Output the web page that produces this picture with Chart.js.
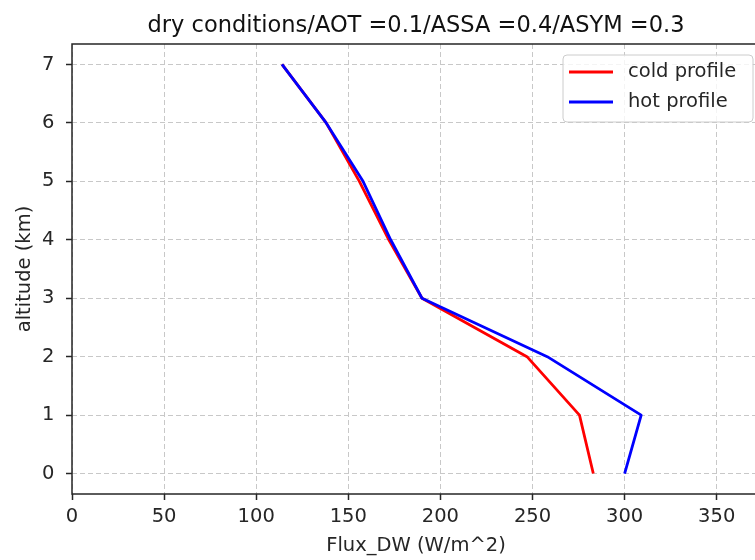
<!DOCTYPE html>
<html>
<head>
<meta charset="utf-8">
<script src="https://cdn.jsdelivr.net/npm/chart.js@4.4.1/dist/chart.umd.min.js"></script>
<style>
  html, body { margin: 0; padding: 0; overflow: hidden; background: #ffffff; }
  #wrap { position: relative; width: 760px; height: 560px; }
</style>
</head>
<body>
<div id="wrap"><canvas id="c" width="760" height="560"></canvas></div>
<script>
// Downward flux profiles against altitude
const altitudes = [0, 1, 2, 3, 4, 5, 6, 7];
const coldFlux = [283, 275.5, 247, 190, 172, 156, 138, 114];
const hotFlux = [300, 309, 258, 190, 173, 158, 138, 114];
const seriesNames = ['cold profile', 'hot profile'];
const xTickValues = [0, 50, 100, 150, 200, 250, 300, 350];
const yTickValues = [0, 1, 2, 3, 4, 5, 6, 7];
const chartTitle = 'dry conditions/AOT =0.1/ASSA =0.4/ASYM =0.3';
const xTitle = 'Flux_DW (W/m^2)';
const yTitle = 'altitude (km)';

const FONT = 'DejaVu Sans';
const TEXT = '#262626';

const toPoints = (flux) => flux.map((v, i) => ({ x: v, y: altitudes[i] }));

// Axes frame, inside legend and the centred title
const decorations = {
  id: 'decorations',
  afterDatasetsDraw(chart) {
    const { ctx, chartArea: a } = chart;
    ctx.save();
    ctx.strokeStyle = TEXT;
    ctx.lineWidth = 1.5;
    ctx.strokeRect(a.left, a.top, a.right - a.left, a.bottom - a.top);

    // legend box
    const bw = 190, bh = 67;
    const bx = a.right - 7 - bw, by = a.top + 11;
    ctx.beginPath();
    ctx.roundRect(bx, by, bw, bh, 4);
    ctx.fillStyle = 'rgba(255,255,255,0.8)';
    ctx.fill();
    ctx.strokeStyle = '#cccccc';
    ctx.lineWidth = 1;
    ctx.stroke();

    ctx.font = '19.5px "' + FONT + '"';
    ctx.textBaseline = 'middle';
    ctx.textAlign = 'left';
    chart.data.datasets.forEach((ds, i) => {
      const y = by + 17 + i * 30;
      ctx.beginPath();
      ctx.moveTo(bx + 6, y);
      ctx.lineTo(bx + 50, y);
      ctx.strokeStyle = ds.borderColor;
      ctx.lineWidth = ds.borderWidth;
      ctx.lineCap = 'butt';
      ctx.stroke();
      ctx.fillStyle = TEXT;
      ctx.fillText(ds.label, bx + 65, y);
    });

    // title centred over the axes
    ctx.font = '22.5px "' + FONT + '"';
    ctx.textAlign = 'center';
    ctx.textBaseline = 'alphabetic';
    ctx.fillStyle = '#111111';
    ctx.fillText(chartTitle, (a.left + a.right) / 2, 32);
    ctx.restore();
  }
};

const gridCommon = {
  color: '#c8c8c8',
  lineWidth: 1,
  drawTicks: true,
  tickLength: 6,
  tickWidth: 1.5,
  tickColor: TEXT,
  tickBorderDash: [],
  tickBorderDashOffset: 0
};

new Chart(document.getElementById('c'), {
  type: 'line',
  data: {
    datasets: [
      {
        label: seriesNames[0],
        data: toPoints(coldFlux),
        borderColor: '#ff0000',
        borderWidth: 2.8,
        pointRadius: 0,
        fill: false,
        tension: 0,
        borderJoinStyle: 'round',
        order: 1
      },
      {
        label: seriesNames[1],
        data: toPoints(hotFlux),
        borderColor: '#0000ff',
        borderWidth: 2.8,
        pointRadius: 0,
        fill: false,
        tension: 0,
        borderJoinStyle: 'round',
        order: 0
      }
    ]
  },
  options: {
    responsive: false,
    devicePixelRatio: 1,
    animation: false,
    layout: { padding: { top: 44, left: 0, right: 0, bottom: 0 } },
    plugins: {
      legend: { display: false },
      title: { display: false },
      tooltip: { enabled: false }
    },
    scales: {
      x: {
        type: 'linear',
        position: 'bottom',
        min: 0,
        max: 373.5,
        afterBuildTicks: (s) => { s.ticks = xTickValues.map((v) => ({ value: v })); },
        afterFit: (s) => { s.height = 66; },
        ticks: {
          color: TEXT,
          font: { family: FONT, size: 19.5 },
          padding: 5,
          maxRotation: 0,
          autoSkip: false,
          callback: (v) => String(v)
        },
        grid: gridCommon,
        border: { display: false, dash: [5, 3] },
        title: {
          display: true,
          text: xTitle,
          color: TEXT,
          font: { family: FONT, size: 19.5 },
          padding: { top: 0, bottom: 2 }
        }
      },
      y: {
        type: 'linear',
        position: 'left',
        min: -0.35,
        max: 7.35,
        afterBuildTicks: (s) => { s.ticks = yTickValues.map((v) => ({ value: v })); },
        afterFit: (s) => { s.width = 72; },
        ticks: {
          color: TEXT,
          font: { family: FONT, size: 19.5 },
          padding: 11.5,
          autoSkip: false,
          callback: (v) => String(v)
        },
        grid: gridCommon,
        border: { display: false, dash: [5, 3] },
        title: {
          display: true,
          text: yTitle,
          color: TEXT,
          font: { family: FONT, size: 19.5 },
          padding: { top: 13, bottom: 0 }
        }
      }
    }
  },
  plugins: [decorations]
});
</script>
</body>
</html>
